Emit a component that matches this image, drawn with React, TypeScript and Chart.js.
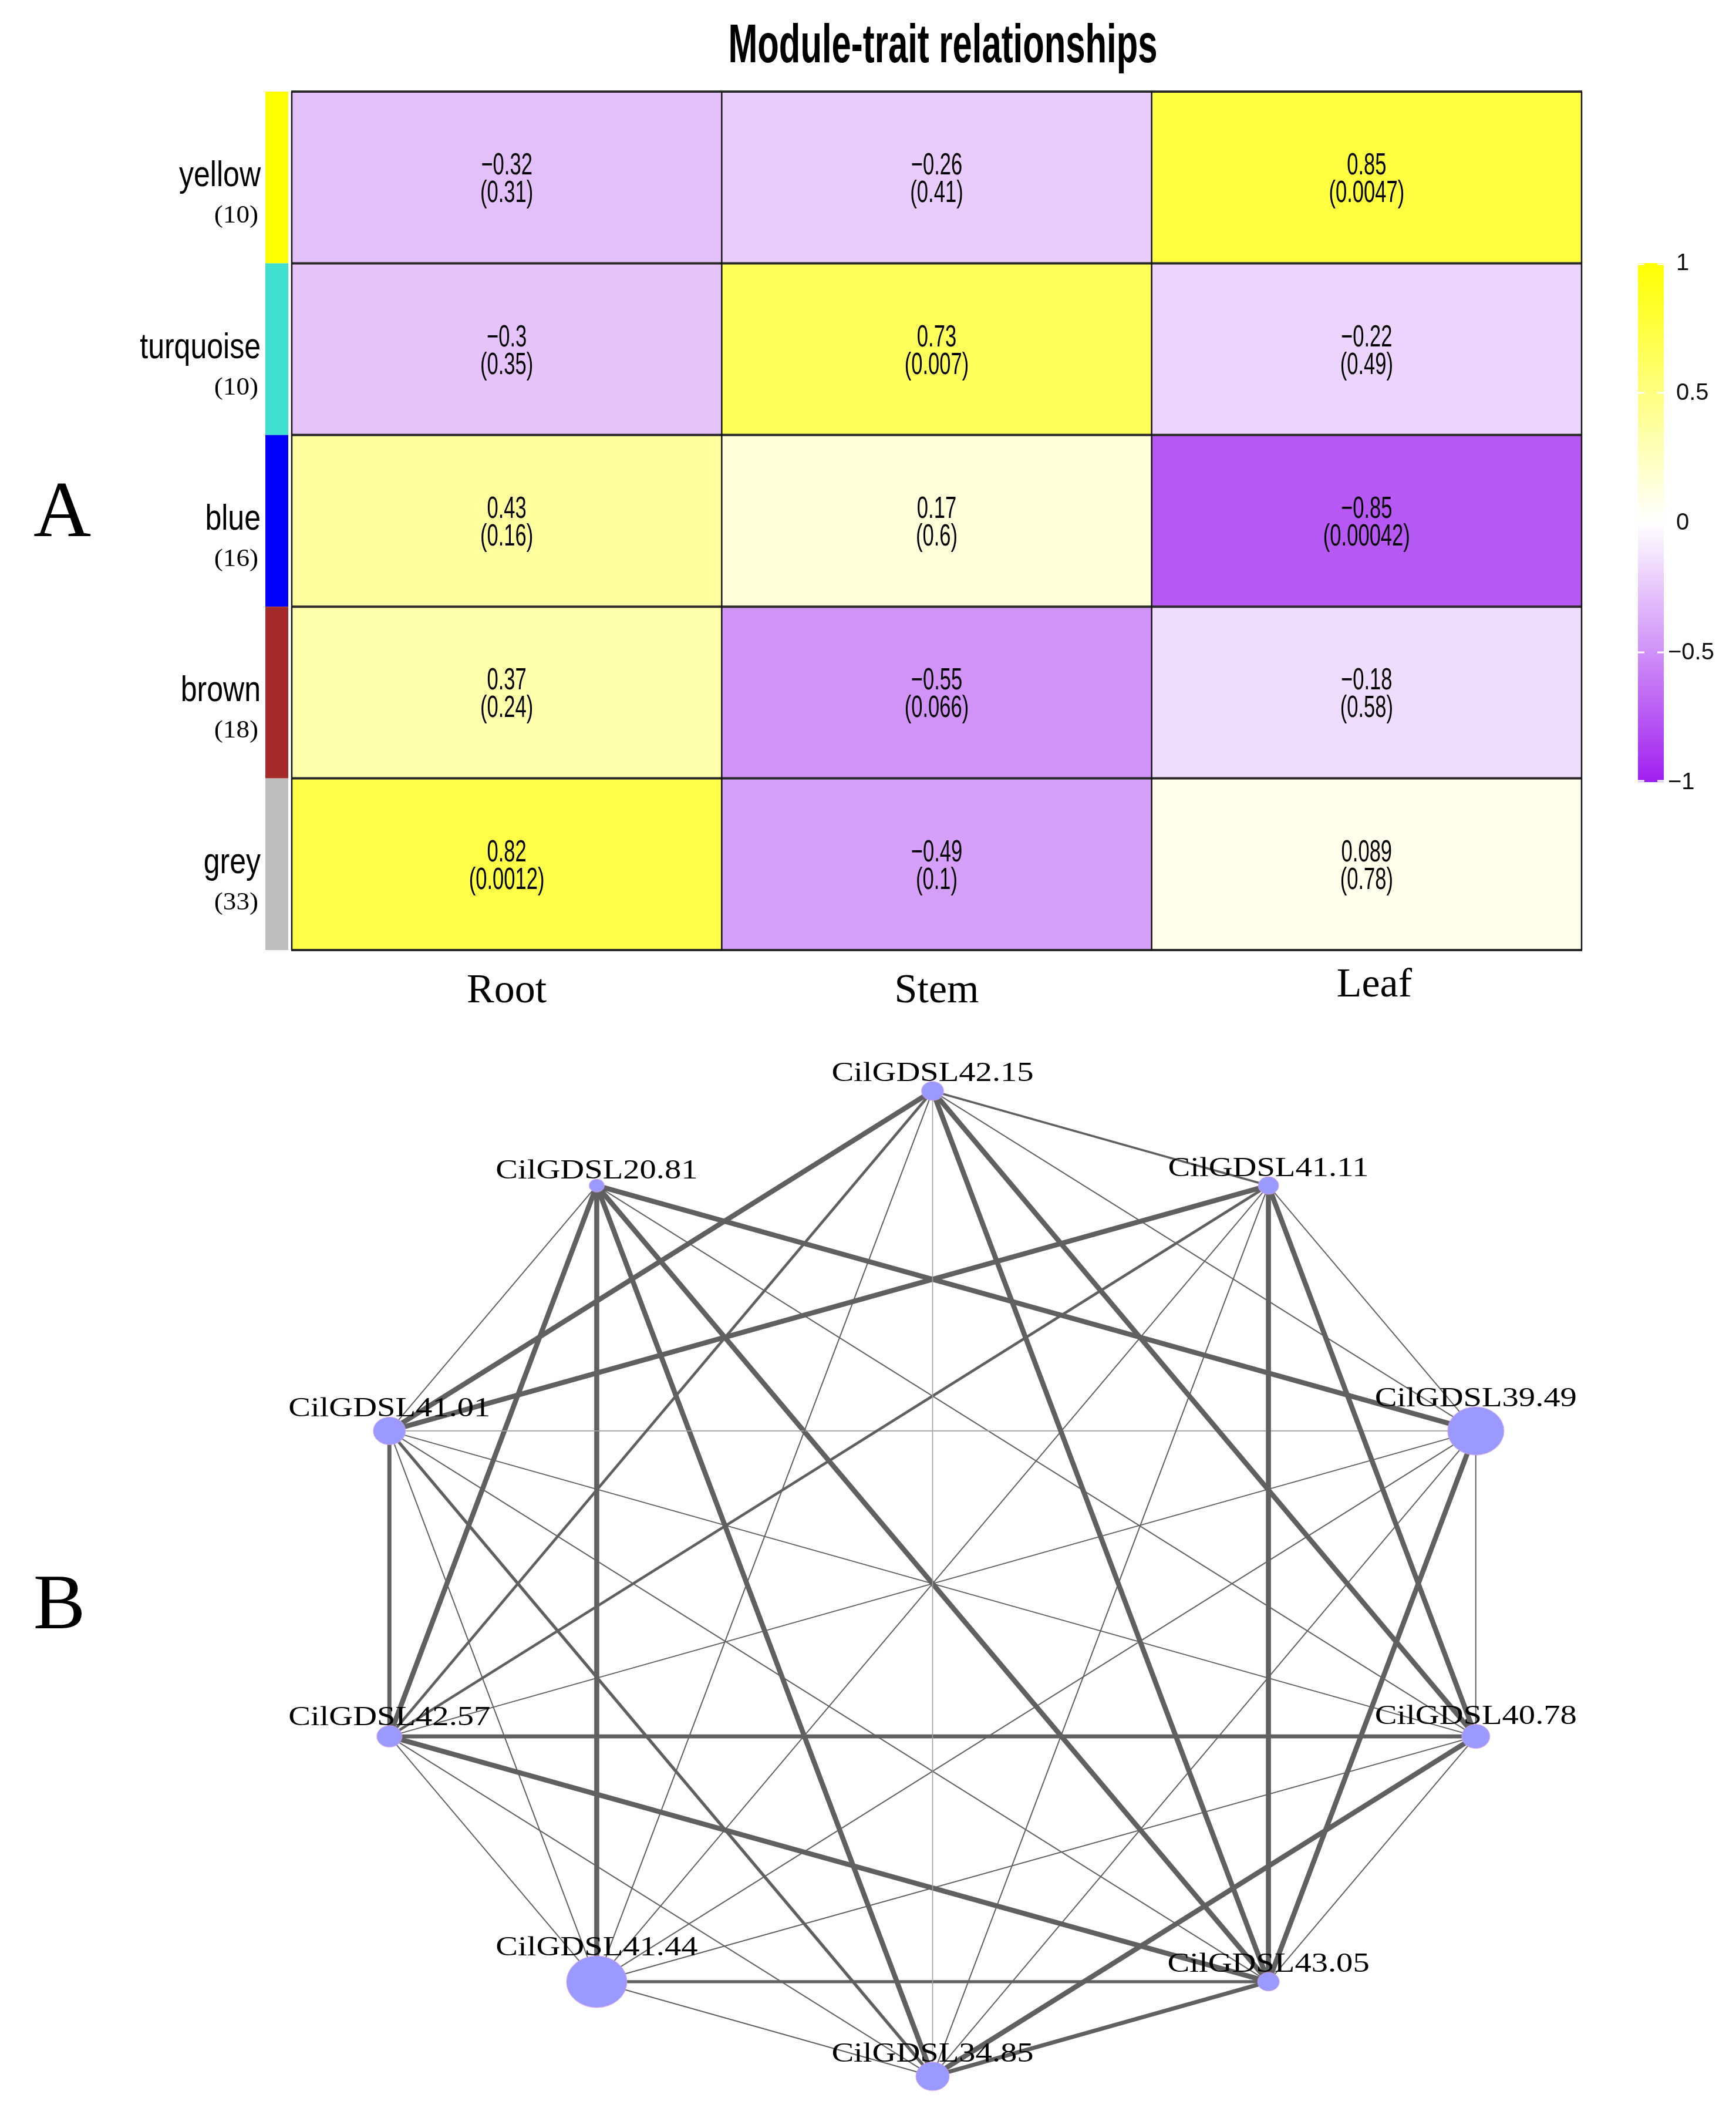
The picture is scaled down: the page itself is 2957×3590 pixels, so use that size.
import React, { useEffect, useRef } from 'react';
import { Chart, registerables } from 'chart.js';

Chart.register(...registerables);

// ---------------- Panel A : module-trait heatmap ----------------
const traits = ['Root', 'Stem', 'Leaf'];
const modules = ['yellow', 'turquoise', 'blue', 'brown', 'grey'];
const moduleGeneCounts = [10, 10, 16, 18, 33];
const moduleColors = ['#FFFF00', '#40E0D0', '#0000FF', '#A52A2A', '#BEBEBE'];

const corYellow = [-0.32, -0.26, 0.85];
const corTurquoise = [-0.3, 0.73, -0.22];
const corBlue = [0.43, 0.17, -0.85];
const corBrown = [0.37, -0.55, -0.18];
const corGrey = [0.82, -0.49, 0.089];

const pYellow = ['0.31', '0.41', '0.0047'];
const pTurquoise = ['0.35', '0.007', '0.49'];
const pBlue = ['0.16', '0.6', '0.00042'];
const pBrown = ['0.24', '0.066', '0.58'];
const pGrey = ['0.0012', '0.1', '0.78'];

const colorbarTicks = [1, 0.5, 0, -0.5, -1];

// ---------------- Panel B : co-expression network ----------------
const nodeNames = [
  'CilGDSL42.15', 'CilGDSL41.11', 'CilGDSL39.49', 'CilGDSL40.78', 'CilGDSL43.05',
  'CilGDSL34.85', 'CilGDSL41.44', 'CilGDSL42.57', 'CilGDSL41.01', 'CilGDSL20.81',
];
const nodeX = [0, 0.588, 0.951, 0.951, 0.588, 0, -0.588, -0.951, -0.951, -0.588];
const nodeY = [1, 0.808, 0.31, -0.31, -0.808, -1, -0.808, -0.31, 0.31, 0.808];
const nodeSize = [38, 35, 96, 48, 37, 57, 103, 43, 55, 26];

const edgeFrom = [0, 0, 0, 0, 0, 0, 0, 0, 1, 1, 1, 1, 1, 1, 1, 2, 2, 2, 2, 2, 2, 2, 3, 3, 3, 3, 3, 3, 4, 4, 4, 4, 4, 5, 5, 5, 5, 6, 6, 6, 7, 7, 8];
const edgeTo = [8, 4, 3, 5, 2, 1, 6, 7, 8, 4, 3, 7, 6, 5, 2, 9, 4, 8, 7, 6, 5, 3, 7, 5, 9, 8, 6, 4, 9, 7, 8, 6, 5, 9, 8, 6, 7, 9, 8, 7, 8, 9, 9];
const edgeWeight = [3, 3, 3, 0.8, 1, 1.5, 1, 1.8, 3, 3, 3, 1.8, 1, 1, 1, 3, 3, 0.8, 1, 1, 1, 1, 2.5, 3, 1, 1, 1, 1, 3, 3, 1, 2, 2.5, 3, 2, 1, 1, 3, 1, 1, 2.5, 3, 1];

// ---------------- helpers ----------------
const corRows = [corYellow, corTurquoise, corBlue, corBrown, corGrey];
const pRows = [pYellow, pTurquoise, pBlue, pBrown, pGrey];

const SANS = '"Liberation Sans", Arial, sans-serif';
const SERIF = '"Liberation Serif", "Times New Roman", serif';

function corColor(v: number, k: number) {
  const t = Math.min(1, Math.abs(v) * k);
  let r: number, g: number, b: number;
  if (v >= 0) {
    r = 255; g = 255; b = 255 * (1 - t);
  } else {
    r = 255 - 95 * t; g = 255 - 223 * t; b = 255 - 15 * t;
  }
  return `rgb(${Math.round(r)},${Math.round(g)},${Math.round(b)})`;
}

function fmt(v: number) {
  return (v < 0 ? '\u2212' : '') + String(Math.abs(v));
}

function drawText(ctx: CanvasRenderingContext2D, text: string, x: number, y: number, font: string, sx: number, align: CanvasTextAlign, color = '#000') {
  ctx.save();
  ctx.translate(x, y);
  ctx.scale(sx, 1);
  ctx.font = font;
  ctx.textAlign = align;
  ctx.textBaseline = 'alphabetic';
  ctx.fillStyle = color;
  ctx.fillText(text, 0, 0);
  ctx.restore();
}

const heatDecor = {
  id: 'heatDecor',
  afterDatasetsDraw(chart: any) {
    const { ctx, chartArea: a, scales } = chart;
    const ys = scales.y;
    const xs = scales.x;
    ctx.save();
    // module colour strip
    modules.forEach((_m, r) => {
      const y0 = ys.getPixelForValue(r);
      const y1 = ys.getPixelForValue(r + 1);
      ctx.fillStyle = moduleColors[r];
      ctx.fillRect(452, y0, 39, y1 - y0);
    });
    // grid lines
    ctx.strokeStyle = '#2b2b2b';
    ctx.lineWidth = 4;
    for (let k = 0; k <= modules.length; k++) {
      const y = ys.getPixelForValue(k);
      ctx.beginPath();
      ctx.moveTo(a.left - 1, y);
      ctx.lineTo(a.right + 1, y);
      ctx.stroke();
    }
    ctx.strokeStyle = '#141414';
    ctx.lineWidth = 2.5;
    for (let k = 0; k <= traits.length; k++) {
      const x = a.left + (k * (a.right - a.left)) / traits.length;
      ctx.beginPath();
      ctx.moveTo(x, a.top);
      ctx.lineTo(x, a.bottom);
      ctx.stroke();
    }
    // cell texts
    chart.data.datasets.forEach((_ds: any, r: number) => {
      const meta = chart.getDatasetMeta(r);
      meta.data.forEach((el: any, c: number) => {
        const cx = el.x;
        const cy = (el.y + el.base) / 2;
        drawText(ctx, fmt(corRows[r][c]), cx, cy - 5, `52px ${SANS}`, 0.665, 'center');
        drawText(ctx, '(' + pRows[r][c] + ')', cx, cy + 42, `52px ${SANS}`, 0.665, 'center');
      });
    });
    // row labels
    modules.forEach((m, r) => {
      const cy = (ys.getPixelForValue(r) + ys.getPixelForValue(r + 1)) / 2;
      drawText(ctx, m, 444, cy + 15, `61px ${SANS}`, 0.82, 'right');
      drawText(ctx, '(' + moduleGeneCounts[r] + ')', 440, cy + 77, `43px ${SERIF}`, 1.05, 'right');
    });
    // column labels
    const dx = [0, 0, 13];
    const dy = [0, 0, -10];
    traits.forEach((t, c) => {
      drawText(ctx, t, xs.getPixelForValue(c) + dx[c], 1707 + dy[c], `70px ${SERIF}`, 1, 'center');
    });
    // title and panel letter
    drawText(ctx, 'Module-trait relationships', 1606, 106, `bold 92px ${SANS}`, 0.65, 'center');
    drawText(ctx, 'A', 106, 913, `136px ${SERIF}`, 1, 'center');
    ctx.restore();
  },
};

const barDecor = {
  id: 'barDecor',
  afterDatasetsDraw(chart: any) {
    const { ctx, chartArea: a, scales } = chart;
    ctx.save();
    ctx.strokeStyle = '#ffffff';
    ctx.lineWidth = 3;
    colorbarTicks.forEach((v) => {
      const yPix = scales.y.getPixelForValue(v);
      const y = Math.min(a.bottom - 2, Math.max(a.top + 2, yPix));
      ctx.beginPath();
      ctx.moveTo(a.left, y);
      ctx.lineTo(a.left + 11, y);
      ctx.moveTo(a.right - 11, y);
      ctx.lineTo(a.right, y);
      ctx.stroke();
      // tick label
      const txt = fmt(v);
      const lx = v < 0 ? a.right + 7 : a.right + 21;
      ctx.save();
      ctx.font = `40px ${SANS}`;
      ctx.textAlign = 'left';
      ctx.textBaseline = 'middle';
      ctx.fillStyle = '#111';
      ctx.fillText(txt, lx, yPix + 1);
      ctx.restore();
    });
    ctx.restore();
  },
};

const netDecor = {
  id: 'netDecor',
  afterDatasetsDraw(chart: any) {
    const { ctx } = chart;
    const meta = chart.getDatasetMeta(0);
    ctx.save();
    meta.data.forEach((el: any, i: number) => {
      const ry = nodeSize[i] / 2 / 1.17;
      drawText(ctx, nodeNames[i], el.x, el.y - ry - 1, `46px ${SERIF}`, 1.23, 'center');
    });
    drawText(ctx, 'B', 101, 1023, `133px ${SERIF}`, 1, 'center');
    ctx.restore();
  },
};

function makeNodeImage(d: number) {
  const rx = d / 2;
  const ry = d / 2 / 1.17;
  const c = document.createElement('canvas');
  c.width = Math.ceil(rx * 2 + 4);
  c.height = Math.ceil(ry * 2 + 4);
  const g = c.getContext('2d')!;
  g.beginPath();
  g.ellipse(c.width / 2, c.height / 2, rx, ry, 0, 0, Math.PI * 2);
  g.fillStyle = '#9999FF';
  g.fill();
  g.lineWidth = 1;
  g.strokeStyle = 'rgba(225,160,230,0.9)';
  g.stroke();
  return c;
}

export default function App() {
  const heatRef = useRef<HTMLCanvasElement>(null);
  const barRef = useRef<HTMLCanvasElement>(null);
  const netRef = useRef<HTMLCanvasElement>(null);

  useEffect(() => {
    const charts: Chart[] = [];

    // ---- heatmap ----
    charts.push(
      new Chart(heatRef.current!, {
        type: 'bar',
        data: {
          labels: traits,
          datasets: modules.map((m, r) => ({
            label: m,
            data: traits.map(() => [r, r + 1]),
            backgroundColor: corRows[r].map((v) => corColor(v, 0.88)),
            borderWidth: 0,
            grouped: false,
            barPercentage: 1,
            categoryPercentage: 1,
          })) as any,
        },
        options: {
          responsive: false,
          maintainAspectRatio: false,
          animation: false,
          devicePixelRatio: 1,
          events: [],
          layout: { autoPadding: false, padding: { left: 497, right: 263, top: 156, bottom: 132 } },
          scales: {
            x: { display: false, offset: true },
            y: { display: false, min: 0, max: modules.length, reverse: true },
          },
          plugins: { legend: { display: false }, tooltip: { enabled: false } },
        },
        plugins: [heatDecor],
      })
    );

    // ---- colour bar ----
    charts.push(
      new Chart(barRef.current!, {
        type: 'bar',
        data: {
          labels: ['scale'],
          datasets: [
            {
              data: [[-1, 1]] as any,
              borderWidth: 0,
              barPercentage: 1,
              categoryPercentage: 1,
              backgroundColor: (c: any) => {
                const chart = c.chart;
                const a = chart.chartArea;
                if (!a) return '#ffffff';
                const g = chart.ctx.createLinearGradient(0, a.bottom, 0, a.top);
                for (let s = 0; s <= 40; s++) {
                  const v = -1 + (2 * s) / 40;
                  g.addColorStop(s / 40, corColor(v, 1));
                }
                return g;
              },
            },
          ],
        },
        options: {
          responsive: false,
          maintainAspectRatio: false,
          animation: false,
          devicePixelRatio: 1,
          events: [],
          layout: { autoPadding: false, padding: { left: 90, right: 123, top: 148, bottom: 118 } },
          scales: {
            x: { display: false },
            y: { display: false, min: -1, max: 1 },
          },
          plugins: { legend: { display: false }, tooltip: { enabled: false } },
        },
        plugins: [barDecor],
      })
    );

    // ---- network ----
    const nodeImages = nodeSize.map(makeNodeImage);
    const nodePoint = (i: number) => ({ x: nodeX[i], y: nodeY[i] });
    const edgeSets = edgeFrom.map((f, k) => {
      const w = edgeWeight[k];
      return {
        type: 'scatter',
        data: [nodePoint(f), nodePoint(edgeTo[k])],
        showLine: true,
        borderColor: w < 1 ? '#a0a0a0' : '#606060',
        borderWidth: w < 1 ? 1.6 : 2.0 + (w - 1) * 3.3,
        pointRadius: 0,
        pointHoverRadius: 0,
        clip: false,
      };
    });
    charts.push(
      new Chart(netRef.current!, {
        type: 'scatter',
        data: {
          datasets: [
            {
              data: nodeNames.map((_n, i) => nodePoint(i)),
              pointStyle: nodeImages as any,
              pointRadius: nodeSize.map((s) => s / 2),
              showLine: false,
              clip: false,
            } as any,
            ...(edgeSets as any[]),
          ],
        },
        options: {
          responsive: false,
          maintainAspectRatio: false,
          animation: false,
          devicePixelRatio: 1,
          events: [],
          layout: { autoPadding: false, padding: { left: 421, right: 201, top: 66, bottom: 12 } },
          scales: {
            x: { type: 'linear', display: false, min: -1.2, max: 1.2 },
            y: { type: 'linear', display: false, min: -1.05, max: 1.05 },
          },
          plugins: { legend: { display: false }, tooltip: { enabled: false } },
        },
        plugins: [netDecor],
      })
    );

    return () => charts.forEach((c) => c.destroy());
  }, []);

  return (
    <div style={{ position: 'absolute', left: 0, top: 0, width: 2957, height: 3590, background: '#ffffff', overflow: 'hidden' }}>
      <canvas ref={heatRef} width={2957} height={1750} style={{ position: 'absolute', left: 0, top: 0, width: 2957, height: 1750 }} />
      <canvas ref={barRef} width={257} height={1150} style={{ position: 'absolute', left: 2700, top: 300, width: 257, height: 1150 }} />
      <canvas ref={netRef} width={2957} height={1840} style={{ position: 'absolute', left: 0, top: 1750, width: 2957, height: 1840 }} />
    </div>
  );
}
